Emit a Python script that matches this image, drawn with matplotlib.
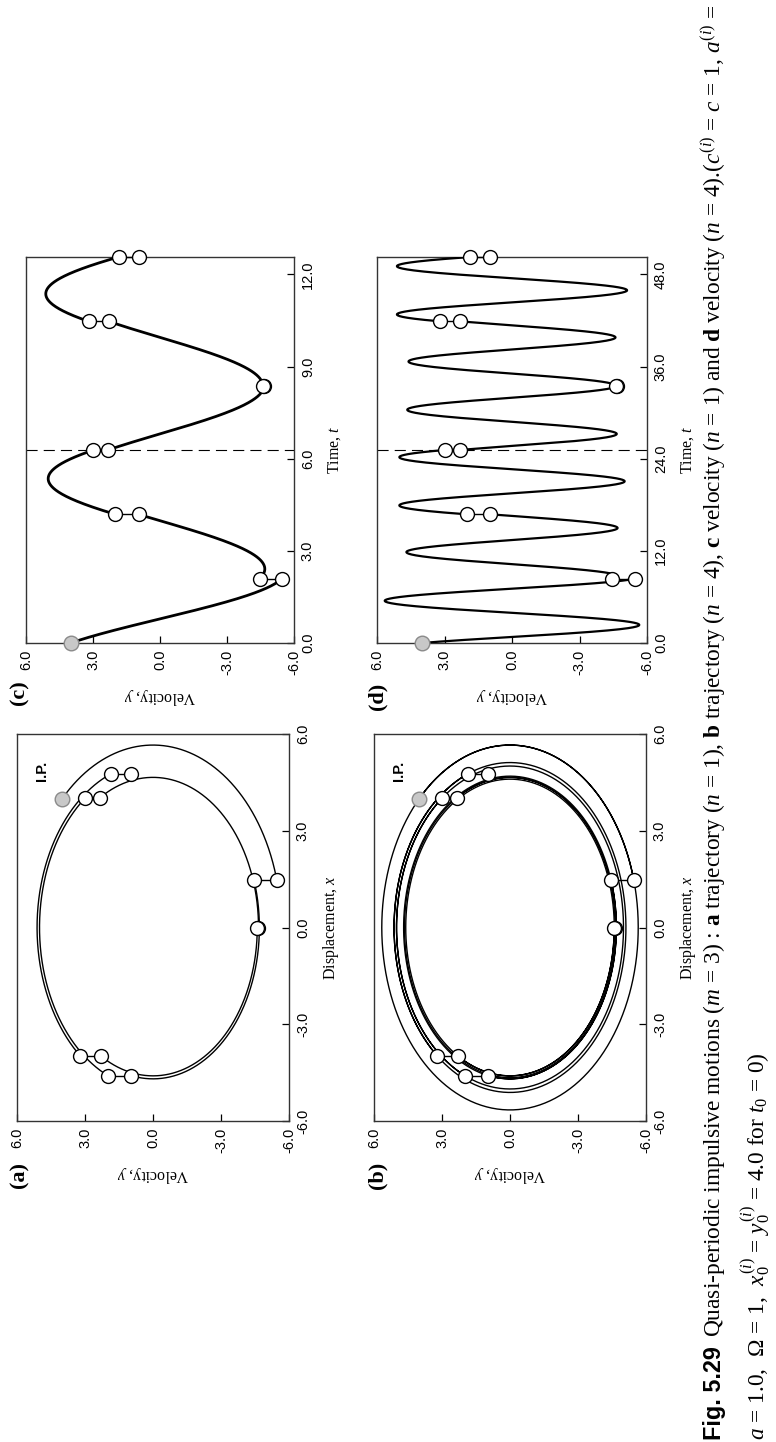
import numpy as np
import matplotlib
matplotlib.use("Agg")
import matplotlib.pyplot as plt

W, H = 776, 1442
plt.rcParams.update({
    "font.family": ["Liberation Sans", "DejaVu Sans"],
    "mathtext.fontset": "custom",
    "mathtext.rm": "Liberation Serif",
    "mathtext.it": "Liberation Serif:italic",
    "mathtext.bf": "Liberation Serif:bold",
})

# ---------------------------------------------------------------- data
c_stiff = 1.0                      # c = 1 (free flight: x'' + c x = 0)
x_ip, y_ip = 4.0, 4.0              # initial point I.P. at t0 = 0

# impulse instants (n = 1 and n = 4)
t_imp_n1 = [2.094, 4.189, 6.283, 8.378, 10.472, 12.566]
t_imp_n4 = [8.378, 16.755, 25.133, 33.510, 41.888, 50.265]

# state at each impulse: displacement, velocity before / after the jump
x_imp = [1.46, -4.59, 4.03, 0.00, -3.99, 4.76]
y_before = [-5.46, 0.96, 2.98, -4.65, 2.30, 1.85]
y_after = [-4.46, 2.00, 2.33, -4.60, 3.20, 0.96]

state_ticks = [-6.0, -3.0, 0.0, 3.0, 6.0]
time_ticks_n1 = [0.0, 3.0, 6.0, 9.0, 12.0]
time_ticks_n4 = [0.0, 12.0, 24.0, 36.0, 48.0]
t_end_n1, t_end_n4 = 12.566, 50.265
cycle_n1, cycle_n4 = 6.283, 25.133

# ---------------------------------------------------------------- helpers
def free_flight(x0, y0, t0, t1):
    w = np.sqrt(c_stiff)
    tau = np.linspace(0.0, t1 - t0, 600)
    x = x0 * np.cos(w * tau) + y0 / w * np.sin(w * tau)
    y = -x0 * w * np.sin(w * tau) + y0 * np.cos(w * tau)
    return t0 + tau, x, y


def flights(t_imp):
    starts = [(0.0, x_ip, y_ip)] + [(t_imp[k], x_imp[k], y_after[k])
                                     for k in range(len(t_imp) - 1)]
    return [free_flight(x0, y0, t0, t1) for (t0, x0, y0), t1 in zip(starts, t_imp)]


fig = plt.figure(figsize=(W / 100, H / 100), dpi=100)
fig.patch.set_facecolor("white")

SPINE = "#333333"
serif = "Liberation Serif"


def make_axes(box, ylim, yticks, ylabel):
    x0, y0, x1, y1 = box
    ax = fig.add_axes([x0 / W, 1 - y1 / H, (x1 - x0) / W, (y1 - y0) / H])
    ax.set_xlim(6.0, -6.0)
    ax.set_ylim(*ylim)
    ax.yaxis.tick_right()
    ax.yaxis.set_label_position("right")
    ax.set_xticks(state_ticks)
    ax.set_xticklabels([f"{v:.1f}" for v in state_ticks], rotation=90)
    ax.set_yticks(yticks)
    ax.set_yticklabels([f"{v:.1f}" for v in yticks], rotation=90, va="center")
    ax.tick_params(direction="in", length=5, width=0.9, labelsize=10.5, pad=5,
                   colors="black", top=False, left=False)
    for s in ax.spines.values():
        s.set_color(SPINE)
        s.set_linewidth(1.0)
    ax.set_xlabel("Velocity, $y$", rotation=180, fontfamily=serif,
                  fontsize=11.5, labelpad=8)
    ax.set_ylabel(ylabel, rotation=90, fontfamily=serif, fontsize=11.5,
                  labelpad=8)
    return ax


def jumps(ax, pos):
    for k, p in enumerate(pos):
        ax.plot([y_before[k], y_after[k]], [p, p], color="black", lw=1.0,
                zorder=4, clip_on=False)
        ax.plot([y_before[k], y_after[k]], [p, p], "o", ms=10, mfc="white",
                mec="black", mew=1.0, zorder=5, clip_on=False)


def ip_marker(ax, pos):
    ax.plot([y_ip], [pos], "o", ms=10.5, mfc="#c8c8c8", mec="#8a8a8a",
            mew=1.0, zorder=6, clip_on=False)


# ---------------------------------------------------------------- (a) and (b): phase trajectories
for box, t_imp, lw in [((17, 734, 289, 1121), t_imp_n1, 1.0),
                       ((374, 734, 646, 1121), t_imp_n4, 1.0)]:
    ax = make_axes(box, (-6.0, 6.0), state_ticks, "Displacement, $x$")
    for t, x, y in flights(t_imp):
        ax.plot(y, x, color="black", lw=lw, zorder=3)
    jumps(ax, x_imp)
    ip_marker(ax, x_ip)
    ax.text(4.9, 4.85, "I.P.", rotation=90, fontweight="bold", fontsize=10.5,
            ha="center", va="center")

# ---------------------------------------------------------------- (c) and (d): velocity time histories
for box, t_imp, t_end, ticks, cyc, lw in [
        ((26, 257, 294, 643), t_imp_n1, t_end_n1, time_ticks_n1, cycle_n1, 2.0),
        ((377, 257, 647, 643), t_imp_n4, t_end_n4, time_ticks_n4, cycle_n4, 1.6)]:
    ax = make_axes(box, (0.0, t_end), ticks, "Time, $t$")
    for t, x, y in flights(t_imp):
        ax.plot(y, t, color="black", lw=lw, zorder=3)
    ax.axhline(cyc, color="black", lw=0.8, dashes=(10, 5.5), zorder=2)
    jumps(ax, t_imp)
    ip_marker(ax, 0.0)

# ---------------------------------------------------------------- panel letters
for lab, px, py in [("(a)", 19, 1175), ("(b)", 377, 1175),
                    ("(c)", 19, 693), ("(d)", 377, 696)]:
    fig.text(px / W, 1 - py / H, lab, rotation=90, fontfamily=serif,
             fontweight="bold", fontsize=16, ha="center", va="center")

# ---------------------------------------------------------------- caption
cap_head = "Fig. 5.29"
cap_line1 = (r"Quasi-periodic impulsive motions ($m$ = 3) : $\mathbf{a}$ trajectory "
             r"($n$ = 1), $\mathbf{b}$ trajectory ($n$ = 4), $\mathbf{c}$ velocity "
             r"($n$ = 1) and $\mathbf{d}$ velocity ($n$ = 4).($c^{(i)}$ = $c$ = 1, "
             r"$a^{(i)}$ =")
cap_line2 = (r"$a$ = 1.0,  $\Omega$ = 1,  $x_0^{(i)}$ = $y_0^{(i)}$ = 4.0 for "
             r"$t_0$ = 0)")

x_l1, x_l2 = 714, 756
y_start, y_stop = 1440, 4
fs0 = 14.0
kw = dict(rotation=90, rotation_mode="anchor", ha="left", va="center")
t_head = fig.text(x_l1 / W, 1 - y_start / H, cap_head, fontweight="bold",
                  fontsize=fs0, **kw)
t_l1 = fig.text(x_l1 / W, 0.5, cap_line1, fontfamily=serif, fontsize=fs0, **kw)
t_l2 = fig.text(x_l2 / W, 1 - y_start / H, cap_line2, fontfamily=serif,
                fontsize=fs0, **kw)

renderer = fig.canvas.get_renderer()
gap = 9
for _ in range(3):
    hb = t_head.get_window_extent(renderer)
    lb = t_l1.get_window_extent(renderer)
    total = hb.height + gap + lb.height
    scale = (y_start - y_stop) / total
    fs0 *= scale
    for t in (t_head, t_l1, t_l2):
        t.set_fontsize(fs0)
    hb = t_head.get_window_extent(renderer)
    t_l1.set_position((x_l1 / W, (hb.y1 + gap) / H))

fig.savefig("out.png", dpi=100, facecolor="white")
